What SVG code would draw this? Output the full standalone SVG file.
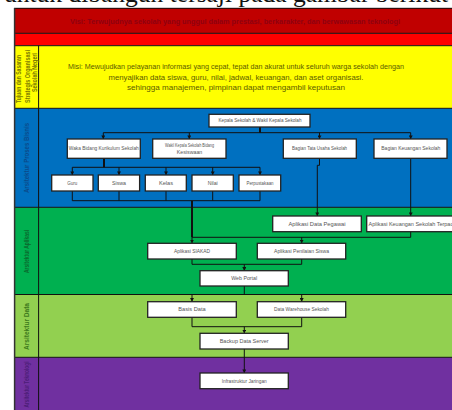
<svg xmlns="http://www.w3.org/2000/svg" width="452" height="410" viewBox="0 0 452 410">
<defs>
<marker id="ar" markerUnits="userSpaceOnUse" markerWidth="4" markerHeight="4" refX="3.6" refY="2" orient="auto"><path d="M0,0 L3.6,2 L0,4 Z" fill="#111"/></marker>
<style>
.bx{fill:#fff;stroke:#222;stroke-width:1.3}
.bt{font-family:"Liberation Sans",Arial,sans-serif;font-size:5px;fill:#555;text-anchor:middle}
.ln{fill:none;stroke:#111;stroke-width:1}
.tk{fill:none;stroke:#111;stroke-width:2}
.lab{font-family:"Liberation Sans",Arial,sans-serif;font-size:7px;font-weight:bold;text-anchor:middle}
.sep{stroke:#111;stroke-width:1}
</style>
</defs>
<rect x="0" y="0" width="452" height="410" fill="#fff"/>
<text x="4" y="2" font-family="'Liberation Serif','Times New Roman',serif" font-size="25.5" fill="#111">untuk dibangun tersaji pada gambar berikut</text>
<g id="bands">
<rect x="14" y="8" width="450" height="25.3" fill="#C00000"/>
<rect x="14" y="33.3" width="450" height="12.4" fill="#FF0000"/>
<rect x="14" y="45.7" width="450" height="62.6" fill="#FFFF00"/>
<rect x="14" y="108.3" width="450" height="99" fill="#0070C0"/>
<rect x="14" y="207.3" width="450" height="87.2" fill="#00B050"/>
<rect x="14" y="294.5" width="450" height="62.8" fill="#92D050"/>
<rect x="14" y="357.3" width="450" height="60" fill="#7030A0"/>
<line class="sep" x1="14" y1="8.3" x2="452" y2="8.3"/>
<line class="sep" x1="14" y1="33.3" x2="452" y2="33.3"/>
<line class="sep" x1="14" y1="45.7" x2="452" y2="45.7"/>
<line class="sep" x1="14" y1="108.3" x2="452" y2="108.3"/>
<line class="sep" x1="14" y1="207.3" x2="452" y2="207.3"/>
<line class="sep" x1="14" y1="294.5" x2="452" y2="294.5"/>
<line class="sep" x1="14" y1="357.3" x2="452" y2="357.3"/>
<line x1="14.6" y1="8" x2="14.6" y2="410" stroke="#333" stroke-width="1.5"/>
<line class="sep" x1="38.6" y1="45.7" x2="38.6" y2="410"/>
</g>
<g id="band-texts">
<text x="235" y="24.3" font-family="'Liberation Sans',Arial,sans-serif" font-size="8" font-weight="bold" fill="#8E0010" text-anchor="middle" textLength="330" lengthAdjust="spacingAndGlyphs">Visi: Terwujudnya sekolah yang unggul dalam prestasi, berkarakter, dan berwawasan teknologi</text>
<g font-family="'Liberation Sans',Arial,sans-serif" font-size="7.5" fill="#5C5C00" text-anchor="middle">
<text x="236" y="68.6" textLength="336" lengthAdjust="spacingAndGlyphs">Misi: Mewujudkan pelayanan informasi yang cepat, tepat dan akurat untuk seluruh warga sekolah dengan</text>
<text x="236" y="79.6" textLength="255" lengthAdjust="spacingAndGlyphs">menyajikan data siswa, guru, nilai, jadwal, keuangan, dan aset organisasi.</text>
<text x="236" y="90.2" textLength="218" lengthAdjust="spacingAndGlyphs">sehingga manajemen, pimpinan dapat mengambil keputusan</text>
</g>
<text class="lab" fill="#7A7A00" transform="translate(21.2,79) rotate(-90)" textLength="48" lengthAdjust="spacingAndGlyphs">Tujuan dan Sasaran</text>
<text class="lab" fill="#7A7A00" transform="translate(29.5,76.5) rotate(-90)" textLength="53" lengthAdjust="spacingAndGlyphs">Strategis Organisasi</text>
<text class="lab" fill="#7A7A00" transform="translate(37,72.5) rotate(-90)" textLength="39" lengthAdjust="spacingAndGlyphs">Sekolah Negeri</text>
<text class="lab" fill="#0B4A8A" transform="translate(29.4,158) rotate(-90)" textLength="70" lengthAdjust="spacingAndGlyphs">Arsitektur Proses Bisnis</text>
<text class="lab" fill="#0A6B2E" transform="translate(29.4,251.5) rotate(-90)" textLength="43" lengthAdjust="spacingAndGlyphs">Arsitektur Aplikasi</text>
<text class="lab" fill="#3E7A1C" transform="translate(29.4,326.5) rotate(-90)" textLength="47" lengthAdjust="spacingAndGlyphs">Arsitektur Data</text>
<text class="lab" fill="#4C1E77" transform="translate(29.4,384.5) rotate(-90)" textLength="46" lengthAdjust="spacingAndGlyphs">Arsitektur Teknologi</text>
</g>
<g id="connectors">
<path class="tk" d="M260,127 V132.7"/>
<path class="ln" d="M103.3,132.7 H410.7"/>
<path class="ln" marker-end="url(#ar)" d="M103.3,132.7 V139"/>
<path class="ln" marker-end="url(#ar)" d="M189.3,132.7 V139"/>
<path class="ln" marker-end="url(#ar)" d="M319.5,132.7 V139"/>
<path class="ln" marker-end="url(#ar)" d="M410.7,132.7 V139"/>
<path class="tk" d="M104,158.3 V167.3"/>
<path class="ln" d="M72.3,167.3 H260"/>
<path class="ln" marker-end="url(#ar)" d="M72.3,167.3 V175"/>
<path class="ln" marker-end="url(#ar)" d="M119,167.3 V175"/>
<path class="ln" marker-end="url(#ar)" d="M166,167.3 V175"/>
<path class="ln" marker-end="url(#ar)" d="M212.7,167.3 V175"/>
<path class="ln" marker-end="url(#ar)" d="M260,167.3 V175"/>
<path class="ln" d="M72.3,191 V200.7 H260 M119,191 V200.7 M166,191 V200.7 M212.7,191 V200.7 M260,191 V200.7"/>
<path class="tk" d="M192,200.7 V237.3"/>
<path class="ln" marker-end="url(#ar)" d="M192,237.3 V243.3"/>
<path class="ln" marker-end="url(#ar)" d="M319.5,158.3 V165.3 H317.3 V216"/>
<path class="ln" marker-end="url(#ar)" d="M410.7,158.3 V216"/>
<path class="ln" d="M410.7,231.7 V237.3 H192"/>
<path class="ln" marker-end="url(#ar)" d="M301.7,237.3 V243.3"/>
<path class="ln" d="M192,259 V264.3 H301.7 V259"/>
<path class="ln" marker-end="url(#ar)" d="M244.3,264.3 V270.7"/>
<path class="ln" d="M244.3,286 V294.5 M192,294.5 H301.7"/>
<path class="ln" marker-end="url(#ar)" d="M192,294.5 V301.7"/>
<path class="ln" marker-end="url(#ar)" d="M301.7,294.5 V301.7"/>
<path class="ln" d="M192,317.3 V326.7 H301.7 V317.3"/>
<path class="ln" marker-end="url(#ar)" d="M244.3,326.7 V333.3"/>
<path class="ln" marker-end="url(#ar)" d="M244.3,349 V373"/>
</g>
<g id="n-top"><rect class="bx" x="209" y="114.3" width="101" height="12.7"/><text class="bt" x="260" y="122.4" textLength="83" lengthAdjust="spacingAndGlyphs">Kepala Sekolah &amp; Wakil Kepala Sekolah</text></g>
<g id="n-a"><rect class="bx" x="67.3" y="139" width="73" height="19.3"/><text class="bt" x="103.8" y="150.4" textLength="70" lengthAdjust="spacingAndGlyphs">Waka Bidang Kurikulum Sekolah</text></g>
<g id="n-b"><rect class="bx" x="152.7" y="139" width="73.3" height="19.3"/><text class="bt" x="189.5" y="146.8" textLength="49" lengthAdjust="spacingAndGlyphs">Wakil Kepala Sekolah Bidang</text><text class="bt" x="189.5" y="154.4" textLength="25.6" lengthAdjust="spacingAndGlyphs">Kesiswaan</text></g>
<g id="n-c"><rect class="bx" x="283.3" y="139" width="73" height="19.3"/><text class="bt" x="319.6" y="150.4" textLength="55" lengthAdjust="spacingAndGlyphs">Bagian Tata Usaha Sekolah</text></g>
<g id="n-d"><rect class="bx" x="374" y="139" width="73" height="19.3"/><text class="bt" x="410.8" y="150.4" textLength="59" lengthAdjust="spacingAndGlyphs">Bagian Keuangan Sekolah</text></g>
<g id="n-r1"><rect class="bx" x="51.7" y="175" width="41.3" height="16"/><text class="bt" x="72.3" y="184.7" textLength="10" lengthAdjust="spacingAndGlyphs">Guru</text></g>
<g id="n-r2"><rect class="bx" x="98.3" y="175" width="41.3" height="16"/><text class="bt" x="119" y="184.7" textLength="14" lengthAdjust="spacingAndGlyphs">Siswa</text></g>
<g id="n-r3"><rect class="bx" x="145.3" y="175" width="41" height="16"/><text class="bt" x="166" y="184.7" textLength="14" lengthAdjust="spacingAndGlyphs">Kelas</text></g>
<g id="n-r4"><rect class="bx" x="192" y="175" width="41.3" height="16"/><text class="bt" x="212.7" y="184.7" textLength="10" lengthAdjust="spacingAndGlyphs">Nilai</text></g>
<g id="n-r5"><rect class="bx" x="239" y="175" width="41.7" height="16"/><text class="bt" x="260" y="184.7" textLength="27" lengthAdjust="spacingAndGlyphs">Perpustakaan</text></g>
<g id="n-e"><rect class="bx" x="272.7" y="216" width="88.6" height="15.7"/><text class="bt" x="317" y="225.6" textLength="57" lengthAdjust="spacingAndGlyphs">Aplikasi Data Pegawai</text></g>
<g id="n-f"><rect class="bx" x="366.7" y="216" width="90" height="15.7"/><text class="bt" x="368.5" y="225.6" style="text-anchor:start" textLength="88" lengthAdjust="spacingAndGlyphs">Aplikasi Keuangan Sekolah Terpadu</text></g>
<g id="n-g"><rect class="bx" x="147.7" y="243.3" width="88.6" height="15.7"/><text class="bt" x="192" y="252.9" textLength="36" lengthAdjust="spacingAndGlyphs">Aplikasi SIAKAD</text></g>
<g id="n-h"><rect class="bx" x="257.3" y="243.3" width="88.4" height="15.7"/><text class="bt" x="301.5" y="252.9" textLength="55" lengthAdjust="spacingAndGlyphs">Aplikasi Penilaian Siswa</text></g>
<g id="n-i"><rect class="bx" x="200" y="270.7" width="88.3" height="15.3"/><text class="bt" x="244.2" y="280.1" textLength="26" lengthAdjust="spacingAndGlyphs">Web Portal</text></g>
<g id="n-j"><rect class="bx" x="147.7" y="301.7" width="88.6" height="15.6"/><text class="bt" x="192" y="311.3" textLength="27.5" lengthAdjust="spacingAndGlyphs">Basis Data</text></g>
<g id="n-k"><rect class="bx" x="257.3" y="301.7" width="88.4" height="15.6"/><text class="bt" x="301.5" y="311.3" textLength="55" lengthAdjust="spacingAndGlyphs">Data Warehouse Sekolah</text></g>
<g id="n-l"><rect class="bx" x="200" y="333.3" width="88.3" height="15.7"/><text class="bt" x="244.2" y="342.9" textLength="49" lengthAdjust="spacingAndGlyphs">Backup Data Server</text></g>
<g id="n-m"><rect class="bx" x="200" y="373" width="88.3" height="15.7"/><text class="bt" x="244.2" y="382.6" textLength="45" lengthAdjust="spacingAndGlyphs">Infrastruktur Jaringan</text></g>
</svg>
